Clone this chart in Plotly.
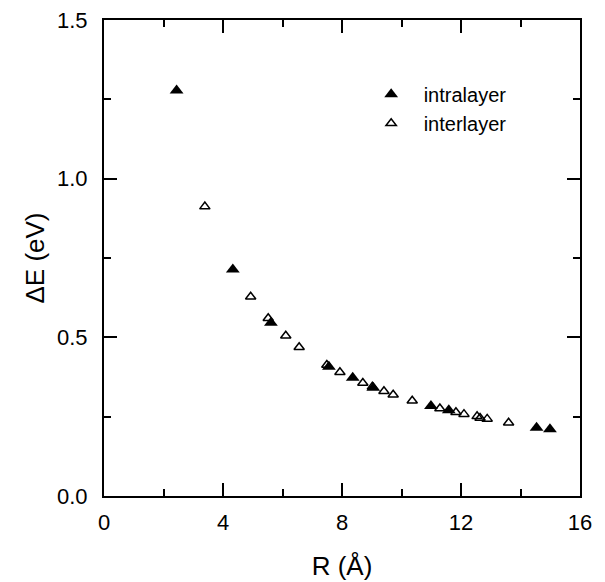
import plotly.graph_objects as go

# intralayer (filled triangles)
intra_R = [2.44, 4.33, 5.61, 7.56, 8.36, 9.05, 10.99, 11.59, 14.54, 14.99]
intra_E = [1.278, 0.714, 0.546, 0.407, 0.373, 0.341, 0.284, 0.270, 0.215, 0.210]

# interlayer (open triangles)
inter_R = [3.39, 4.93, 5.52, 6.11, 6.56, 7.49, 7.93, 8.70, 9.02, 9.41, 9.72,
           10.36, 11.29, 11.83, 12.10, 12.54, 12.64, 12.88, 13.60]
inter_E = [0.912, 0.628, 0.560, 0.505, 0.469, 0.413, 0.390, 0.356, 0.344, 0.330, 0.319,
           0.300, 0.276, 0.264, 0.258, 0.251, 0.246, 0.243, 0.231]

x_ticks = [0, 4, 8, 12, 16]
y_ticks = [0.0, 0.5, 1.0, 1.5]
y_tick_labels = ["0.0", "0.5", "1.0", "1.5"]

fig = go.Figure()
fig.add_trace(go.Scatter(
    x=intra_R, y=intra_E, mode="markers", name="intralayer",
    marker=dict(symbol="triangle-up", size=12, color="black", line=dict(width=0)),
))
fig.add_trace(go.Scatter(
    x=inter_R, y=inter_E, mode="markers", name="interlayer",
    marker=dict(symbol="triangle-up-open", size=9, color="black", line=dict(width=1.5, color="black")),
))

font = dict(family="Liberation Sans, Arial, sans-serif", size=22, color="black")

fig.update_layout(
    width=605, height=582,
    margin=dict(l=104, r=25, t=20, b=86, autoexpand=False),
    paper_bgcolor="white", plot_bgcolor="white",
    font=font,
    showlegend=True,
    legend=dict(x=0.535, y=0.885, xanchor="left", yanchor="top",
                bgcolor="rgba(0,0,0,0)", font=dict(size=20),
                itemsizing="trace", itemwidth=55, tracegroupgap=0),
    xaxis=dict(
        range=[0, 16], tickvals=x_ticks, ticktext=[str(v) for v in x_ticks],
        ticks="inside", ticklen=13, tickwidth=1.5, tickcolor="black",
        minor=dict(dtick=2, ticks="inside", ticklen=7, tickwidth=1.5, tickcolor="black"),
        showline=True, linecolor="black", linewidth=2, mirror="ticks",
        showgrid=False, zeroline=False, automargin=False,
        title=dict(text="R (Å)", standoff=22), ticklabelstandoff=6,
    ),
    yaxis=dict(
        range=[0, 1.5], tickvals=y_ticks, ticktext=y_tick_labels,
        ticks="inside", ticklen=13, tickwidth=1.5, tickcolor="black",
        minor=dict(dtick=0.25, ticks="inside", ticklen=7, tickwidth=1.5, tickcolor="black"),
        showline=True, linecolor="black", linewidth=2, mirror="ticks",
        showgrid=False, zeroline=False, automargin=False,
        title=dict(text="ΔE (eV)", standoff=5), ticklabelstandoff=10,
    ),
)

fig.write_html("out.html")
